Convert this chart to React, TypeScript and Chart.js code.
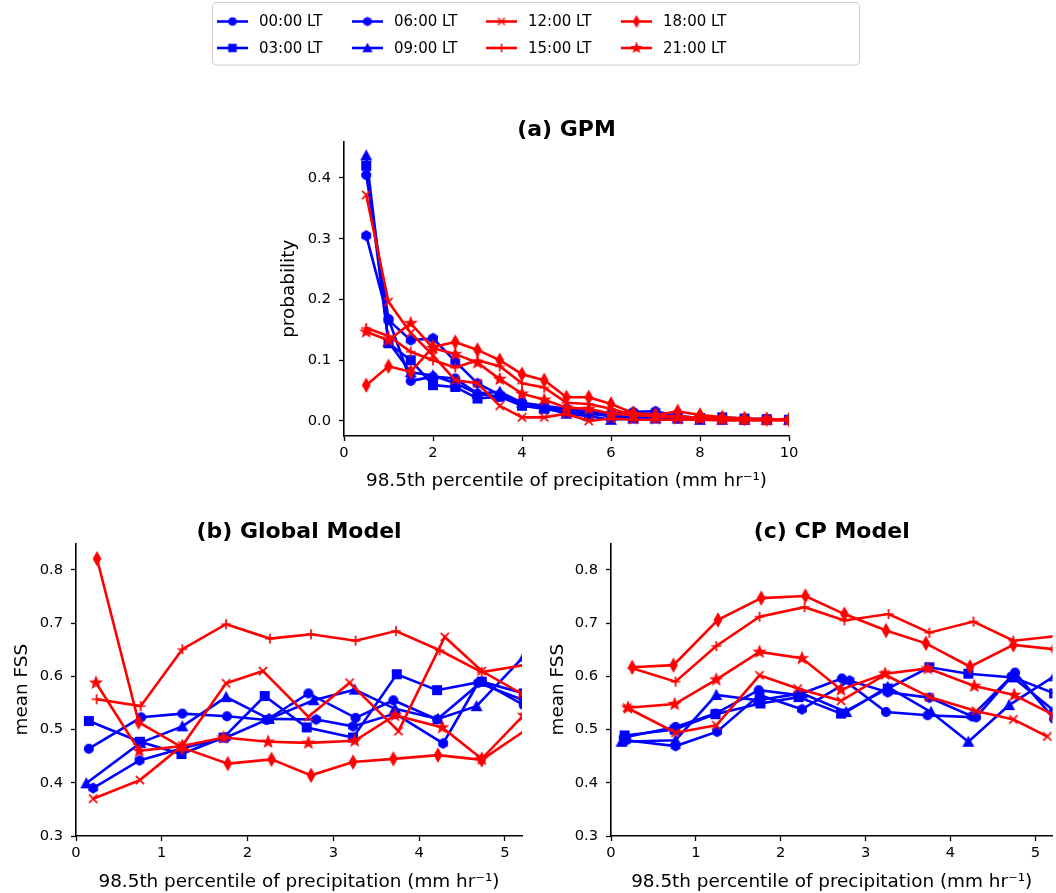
import React, { useEffect, useRef } from "react";
import { Chart, registerables } from "chart.js";

Chart.register(...registerables);

const FONT = '"DejaVu Sans", sans-serif';

const seriesLabels = ["00:00 LT", "03:00 LT", "06:00 LT", "09:00 LT", "12:00 LT", "15:00 LT", "18:00 LT", "21:00 LT"];
const seriesColors = ["#0000ff", "#0000ff", "#0000ff", "#0000ff", "#ff0000", "#ff0000", "#ff0000", "#ff0000"];
const seriesMarkers = ["circle", "square", "hexagon", "triangle", "x", "plus", "thinDiamond", "star"];

// (a) GPM: probability per precipitation bin
const gpmBins = [0.5, 1, 1.5, 2, 2.5, 3, 3.5, 4, 4.5, 5, 5.5, 6, 6.5, 7, 7.5, 8, 8.5, 9, 9.5, 10];
const gpmProb00 = [0.405, 0.168, 0.066, 0.073, 0.07, 0.045, 0.04, 0.03, 0.022, 0.02, 0.015, 0.008, 0.006, 0.006, 0.004, 0.003, 0.003, 0.002, 0.002, 0.002];
const gpmProb03 = [0.42, 0.128, 0.1, 0.059, 0.056, 0.037, 0.04, 0.025, 0.02, 0.015, 0.012, 0.008, 0.006, 0.006, 0.005, 0.005, 0.006, 0.004, 0.003, 0.002];
const gpmProb06 = [0.305, 0.166, 0.133, 0.136, 0.098, 0.062, 0.043, 0.03, 0.025, 0.02, 0.015, 0.012, 0.015, 0.016, 0.008, 0.005, 0.004, 0.003, 0.002, 0.002];
const gpmProb09 = [0.437, 0.13, 0.08, 0.075, 0.062, 0.045, 0.048, 0.03, 0.022, 0.012, 0.008, 0.002, 0.004, 0.004, 0.004, 0.002, 0.002, 0.002, 0.002, 0.002];
const gpmProb12 = [0.372, 0.196, 0.145, 0.108, 0.067, 0.062, 0.025, 0.006, 0.006, 0.012, 0.0, 0.004, 0.002, 0.002, 0.002, 0.002, 0.001, 0.001, 0.001, 0.001];
const gpmProb15 = [0.153, 0.14, 0.114, 0.1, 0.088, 0.1, 0.09, 0.062, 0.055, 0.03, 0.028, 0.02, 0.01, 0.008, 0.008, 0.005, 0.004, 0.003, 0.002, 0.002];
const gpmProb18 = [0.059, 0.09, 0.081, 0.122, 0.13, 0.117, 0.1, 0.077, 0.067, 0.039, 0.039, 0.028, 0.013, 0.01, 0.016, 0.01, 0.006, 0.004, 0.003, 0.002];
const gpmProb21 = [0.147, 0.133, 0.161, 0.12, 0.11, 0.096, 0.069, 0.045, 0.035, 0.022, 0.02, 0.012, 0.01, 0.008, 0.006, 0.005, 0.004, 0.003, 0.002, 0.002];

// (b) Global Model: bin-mean precipitation (x) and mean FSS (y)
const globalBinMean = [
  [0.15, 0.76, 1.24, 1.76, 2.22, 2.71, 3.26, 3.7, 4.21, 4.73, 5.22],
  [0.15, 0.745, 1.23, 1.72, 2.2, 2.69, 3.23, 3.74, 4.21, 4.73, 5.22],
  [0.2, 0.74, 1.24, 1.75, 2.25, 2.8, 3.23, 3.72, 4.28, 4.69, 5.22],
  [0.12, 0.75, 1.24, 1.75, 2.25, 2.77, 3.25, 3.72, 4.22, 4.67, 5.22],
  [0.2, 0.745, 1.24, 1.75, 2.18, 2.71, 3.19, 3.76, 4.3, 4.73, 5.2],
  [0.24, 0.754, 1.24, 1.75, 2.26, 2.74, 3.26, 3.73, 4.24, 4.73, 5.22],
  [0.245, 0.73, 1.24, 1.77, 2.28, 2.74, 3.23, 3.7, 4.22, 4.73, 5.25],
  [0.233, 0.738, 1.24, 1.72, 2.24, 2.71, 3.25, 3.72, 4.27, 4.73, 5.22],
];
const globalFss = [
  [0.464, 0.523, 0.53, 0.525, 0.518, 0.568, 0.522, 0.555, 0.519, 0.59, 0.546],
  [0.516, 0.477, 0.454, 0.485, 0.563, 0.504, 0.485, 0.604, 0.574, 0.59, 0.568],
  [0.39, 0.442, 0.465, 0.485, 0.52, 0.519, 0.506, 0.53, 0.474, 0.588, 0.555],
  [0.399, 0.475, 0.506, 0.561, 0.52, 0.555, 0.575, 0.539, 0.52, 0.544, 0.637],
  [0.37, 0.405, 0.47, 0.587, 0.61, 0.524, 0.588, 0.497, 0.674, 0.61, 0.567],
  [0.557, 0.544, 0.651, 0.698, 0.671, 0.679, 0.667, 0.685, 0.649, 0.608, 0.621],
  [0.821, 0.514, 0.466, 0.436, 0.444, 0.414, 0.439, 0.445, 0.452, 0.443, 0.5],
  [0.588, 0.46, 0.469, 0.485, 0.477, 0.475, 0.479, 0.527, 0.504, 0.445, 0.527],
];

// (c) CP Model
const cpBinMean = [
  [0.15, 0.76, 1.23, 1.74, 2.2, 2.72, 3.24, 3.73, 4.3, 4.76, 5.22],
  [0.16, 0.75, 1.23, 1.76, 2.21, 2.71, 3.26, 3.75, 4.21, 4.74, 5.22],
  [0.18, 0.76, 1.25, 1.75, 2.25, 2.81, 3.26, 3.75, 4.25, 4.72, 5.22],
  [0.125, 0.76, 1.24, 1.73, 2.25, 2.77, 3.26, 3.77, 4.21, 4.69, 5.22],
  [0.19, 0.76, 1.24, 1.75, 2.2, 2.71, 3.23, 3.75, 4.3, 4.74, 5.14],
  [0.25, 0.76, 1.24, 1.75, 2.28, 2.75, 3.27, 3.75, 4.27, 4.74, 5.22],
  [0.25, 0.736, 1.26, 1.77, 2.29, 2.75, 3.24, 3.71, 4.23, 4.74, 5.22],
  [0.2, 0.75, 1.24, 1.75, 2.25, 2.71, 3.23, 3.73, 4.28, 4.75, 5.22],
];
const cpFss = [
  [0.485, 0.505, 0.53, 0.574, 0.565, 0.596, 0.533, 0.527, 0.523, 0.607, 0.52],
  [0.489, 0.5, 0.529, 0.549, 0.561, 0.53, 0.577, 0.617, 0.605, 0.598, 0.568],
  [0.48, 0.469, 0.496, 0.565, 0.538, 0.592, 0.57, 0.56, 0.525, 0.6, 0.535],
  [0.477, 0.48, 0.565, 0.555, 0.568, 0.533, 0.58, 0.533, 0.477, 0.546, 0.6],
  [0.541, 0.494, 0.508, 0.602, 0.577, 0.554, 0.603, 0.561, 0.535, 0.519, 0.487],
  [0.615, 0.59, 0.657, 0.712, 0.73, 0.705, 0.717, 0.682, 0.703, 0.667, 0.675],
  [0.617, 0.621, 0.706, 0.747, 0.751, 0.717, 0.686, 0.662, 0.618, 0.659, 0.651],
  [0.541, 0.548, 0.594, 0.646, 0.634, 0.575, 0.605, 0.615, 0.582, 0.565, 0.527],
];

const gpmXTicks = [0, 2, 4, 6, 8, 10];
const gpmYTicks = [0, 0.1, 0.2, 0.3, 0.4];
const modelXTicks = [0, 1, 2, 3, 4, 5];
const modelYTicks = [0.3, 0.4, 0.5, 0.6, 0.7, 0.8];

const xLabel = "98.5th percentile of precipitation (mm hr\u207B\u00B9)";

const LABEL_SIZE = 18.4;
const TITLE_SIZE = 22;
const TICK_SIZE = 14.7;

function markerCanvas(shape: string, color: string, s: number): HTMLCanvasElement {
  const size = 18;
  const c = document.createElement("canvas");
  c.width = size;
  c.height = size;
  const g = c.getContext("2d") as CanvasRenderingContext2D;
  g.translate(size / 2, size / 2);
  g.fillStyle = color;
  g.strokeStyle = color;
  g.lineWidth = 1.2 * s;
  g.lineJoin = "miter";
  g.beginPath();
  if (shape === "circle") {
    g.arc(0, 0, 4.5 * s, 0, Math.PI * 2);
    g.fill();
    g.stroke();
  } else if (shape === "square") {
    g.rect(-4.4 * s, -4.4 * s, 8.8 * s, 8.8 * s);
    g.fill();
    g.stroke();
  } else if (shape === "hexagon") {
    for (let i = 0; i < 6; i++) {
      const a = -Math.PI / 2 + (i * Math.PI) / 3;
      const r = 4.9 * s;
      if (i === 0) g.moveTo(Math.cos(a) * r, Math.sin(a) * r);
      else g.lineTo(Math.cos(a) * r, Math.sin(a) * r);
    }
    g.closePath();
    g.fill();
    g.stroke();
  } else if (shape === "triangle") {
    g.moveTo(0, -5 * s);
    g.lineTo(5 * s, 4.5 * s);
    g.lineTo(-5 * s, 4.5 * s);
    g.closePath();
    g.fill();
    g.stroke();
  } else if (shape === "x") {
    const r = 4.1 * s;
    g.lineWidth = 1.7 * s;
    g.moveTo(-r, -r);
    g.lineTo(r, r);
    g.moveTo(r, -r);
    g.lineTo(-r, r);
    g.stroke();
  } else if (shape === "plus") {
    const r = 4.9 * s;
    g.lineWidth = 1.7 * s;
    g.moveTo(-r, 0);
    g.lineTo(r, 0);
    g.moveTo(0, -r);
    g.lineTo(0, r);
    g.stroke();
  } else if (shape === "thinDiamond") {
    g.moveTo(0, -6.5 * s);
    g.lineTo(3.7 * s, 0);
    g.lineTo(0, 6.5 * s);
    g.lineTo(-3.7 * s, 0);
    g.closePath();
    g.fill();
    g.stroke();
  } else if (shape === "star") {
    const ro = 5.9 * s;
    const ri = 2.5 * s;
    for (let i = 0; i < 10; i++) {
      const a = -Math.PI / 2 + (i * Math.PI) / 5;
      const r = i % 2 === 0 ? ro : ri;
      if (i === 0) g.moveTo(Math.cos(a) * r, Math.sin(a) * r);
      else g.lineTo(Math.cos(a) * r, Math.sin(a) * r);
    }
    g.closePath();
    g.fill();
    g.stroke();
  }
  return c;
}

function axis(kind: "x" | "y", min: number, max: number, ticks: number[], decimals: number, title: string, thickness: number, tickPad: number) {
  return {
    type: "linear",
    position: kind === "x" ? "bottom" : "left",
    min,
    max,
    afterBuildTicks: (s: any) => {
      s.ticks = ticks.map((v) => ({ value: v }));
    },
    afterFit: (s: any) => {
      if (kind === "x") s.height = thickness;
      else s.width = thickness;
    },
    grid: { display: true, drawOnChartArea: false, drawTicks: true, tickLength: 5, tickWidth: 1.3, tickColor: "#000" },
    border: { display: true, color: "#000", width: 1.6 },
    ticks: {
      color: "#000",
      padding: tickPad,
      autoSkip: false,
      maxRotation: 0,
      font: { family: FONT, size: TICK_SIZE },
      callback: (v: any) => Number(v).toFixed(decimals),
    },
    title: { display: true, text: title, color: "#000", padding: 0, font: { family: FONT, size: LABEL_SIZE, lineHeight: 1.2 } },
  };
}

const titlePlugin = {
  id: "panelTitle",
  afterDraw(chart: any, _args: any, opts: any) {
    const { ctx, chartArea } = chart;
    ctx.save();
    ctx.font = `bold ${TITLE_SIZE}px ${FONT}`;
    ctx.fillStyle = "#000";
    ctx.textAlign = "center";
    ctx.textBaseline = "alphabetic";
    ctx.fillText(opts.text, (chartArea.left + chartArea.right) / 2, chartArea.top - 5.5);
    ctx.restore();
  },
};

function makeLegendPlugin(markers: HTMLCanvasElement[]) {
  return {
    id: "figLegend",
    afterDraw(chart: any) {
      const ctx = chart.ctx as CanvasRenderingContext2D;
      ctx.save();
      const x0 = 212.5, y0 = 2.5, w = 647, h = 62.5, r = 4;
      ctx.beginPath();
      ctx.moveTo(x0 + r, y0);
      ctx.lineTo(x0 + w - r, y0);
      ctx.arcTo(x0 + w, y0, x0 + w, y0 + r, r);
      ctx.lineTo(x0 + w, y0 + h - r);
      ctx.arcTo(x0 + w, y0 + h, x0 + w - r, y0 + h, r);
      ctx.lineTo(x0 + r, y0 + h);
      ctx.arcTo(x0, y0 + h, x0, y0 + h - r, r);
      ctx.lineTo(x0, y0 + r);
      ctx.arcTo(x0, y0, x0 + r, y0, r);
      ctx.closePath();
      ctx.fillStyle = "rgba(255,255,255,0.8)";
      ctx.fill();
      ctx.strokeStyle = "#cccccc";
      ctx.lineWidth = 1;
      ctx.stroke();
      const colX = [217, 352, 486, 621];
      const rowY = [21.5, 48];
      ctx.font = `15px ${FONT}`;
      ctx.textBaseline = "middle";
      ctx.textAlign = "left";
      seriesLabels.forEach((label, i) => {
        const col = Math.floor(i / 2);
        const row = i % 2;
        const x = colX[col];
        const y = rowY[row];
        ctx.strokeStyle = seriesColors[i];
        ctx.lineWidth = 2.6;
        ctx.beginPath();
        ctx.moveTo(x, y);
        ctx.lineTo(x + 31, y);
        ctx.stroke();
        const m = markers[i];
        ctx.drawImage(m, x + 15.5 - m.width / 2, y - m.height / 2);
        ctx.fillStyle = "#000";
        ctx.fillText(label, x + 42, y + 1);
      });
      ctx.restore();
    },
  };
}

function buildDatasets(xs: number[][], ys: number[][], markers: HTMLCanvasElement[]) {
  return ys.map((row, i) => ({
    label: seriesLabels[i],
    data: row.map((v, j) => ({ x: xs[i][j], y: v })),
    borderColor: seriesColors[i],
    backgroundColor: seriesColors[i],
    borderWidth: 2.6,
    pointStyle: markers[i],
    pointRadius: 5,
    pointHoverRadius: 5,
    tension: 0,
    fill: false,
    clip: 0,
    order: 7 - i,
  }));
}

function baseOptions(padding: any, xAx: any, yAx: any, title: string) {
  return {
    responsive: false,
    animation: false,
    devicePixelRatio: 1,
    events: [],
    layout: { padding },
    scales: { x: xAx, y: yAx },
    plugins: { legend: { display: false }, tooltip: { enabled: false }, panelTitle: { text: title } },
  };
}

export default function App() {
  const refA = useRef<HTMLCanvasElement>(null);
  const refB = useRef<HTMLCanvasElement>(null);
  const refC = useRef<HTMLCanvasElement>(null);

  useEffect(() => {
    const plotMarkers = seriesMarkers.map((m, i) => markerCanvas(m, seriesColors[i], 1));
    const legendMarkers = seriesMarkers.map((m, i) => markerCanvas(m, seriesColors[i], 0.85));
    const gpmRows = [gpmProb00, gpmProb03, gpmProb06, gpmProb09, gpmProb12, gpmProb15, gpmProb18, gpmProb21];
    const gpmXs = gpmRows.map(() => gpmBins);
    const half = (LABEL_SIZE * 1.2) / 2;

    const charts: Chart[] = [];
    charts.push(
      new Chart(refA.current as HTMLCanvasElement, {
        type: "line",
        data: { datasets: buildDatasets(gpmXs, gpmRows, plotMarkers) as any },
        options: baseOptions(
          { left: 289 - half, right: 267, top: 141.5, bottom: 500 - (481 + half) },
          axis("x", 0, 10, gpmXTicks, 0, xLabel, 481 + half - 436, 3),
          axis("y", -0.0247, 0.46, gpmYTicks, 1, "probability", 344 - (289 - half), 8),
          "(a) GPM"
        ) as any,
        plugins: [titlePlugin, makeLegendPlugin(legendMarkers)] as any,
      })
    );
    charts.push(
      new Chart(refB.current as HTMLCanvasElement, {
        type: "line",
        data: { datasets: buildDatasets(globalBinMean, globalFss, plotMarkers) as any },
        options: baseOptions(
          { left: 22 - half, right: 8, top: 43.3, bottom: 393 - (382 + half) },
          axis("x", 0, 5.2, modelXTicks, 0, xLabel, 382 + half - 336, 3),
          axis("y", 0.3, 0.85, modelYTicks, 1, "mean FSS", 76 - (22 - half), 8),
          "(b) Global Model"
        ) as any,
        plugins: [titlePlugin] as any,
      })
    );
    charts.push(
      new Chart(refC.current as HTMLCanvasElement, {
        type: "line",
        data: { datasets: buildDatasets(cpBinMean, cpFss, plotMarkers) as any },
        options: baseOptions(
          { left: 28 - half, right: 3, top: 43.3, bottom: 393 - (382 + half) },
          axis("x", 0, 5.2, modelXTicks, 0, xLabel, 382 + half - 336, 3),
          axis("y", 0.3, 0.85, modelYTicks, 1, "mean FSS", 81 - (28 - half), 8),
          "(c) CP Model"
        ) as any,
        plugins: [titlePlugin] as any,
      })
    );
    return () => charts.forEach((c) => c.destroy());
  }, []);

  return (
    <div style={{ position: "fixed", left: 0, top: 0, width: 1056, height: 893, overflow: "hidden", background: "#fff" }}>
      <canvas ref={refA} width={1056} height={500} style={{ position: "absolute", left: 0, top: 0 }} />
      <canvas ref={refB} width={530} height={393} style={{ position: "absolute", left: 0, top: 500 }} />
      <canvas ref={refC} width={530} height={393} style={{ position: "absolute", left: 530, top: 500 }} />
    </div>
  );
}
